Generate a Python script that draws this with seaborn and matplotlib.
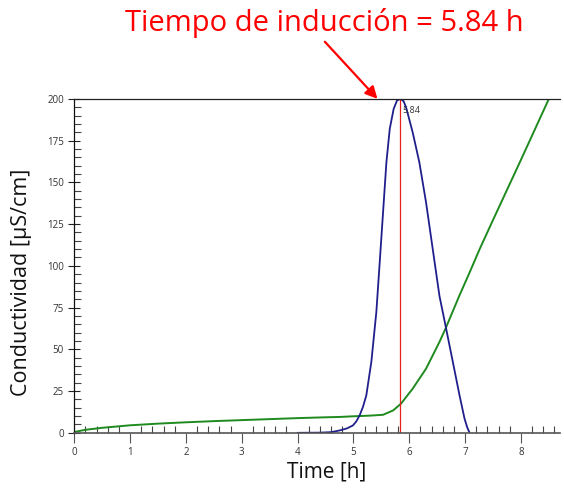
import numpy as np
import pandas as pd
import matplotlib
matplotlib.use("Agg")
import matplotlib.pyplot as plt
import seaborn as sns
from matplotlib.ticker import MultipleLocator

# Data
blue_t = [4.0, 4.4, 4.6, 4.75, 4.88, 4.99, 5.05, 5.11, 5.17, 5.23, 5.32, 5.41, 5.47, 5.53, 5.59,
          5.65, 5.72, 5.78, 5.84, 5.90, 5.95, 6.06, 6.18, 6.30, 6.42, 6.54, 6.65,
          6.78, 6.90, 6.99, 7.04, 7.08]
blue_v = [0.0, 0.1, 0.4, 1.4, 2.6, 4.4, 6.8, 10.4, 15.5, 22.4, 42.4, 72.4, 102.0, 132.0, 162.0,
          182.0, 194.0, 199.0, 200.0, 198.5, 194.0, 180.0, 162.0, 138.0, 110.0, 82.0, 64.0,
          42.4, 22.4, 8.4, 3.0, 0.0]

green_t = [0.0, 0.2, 0.5, 1.0, 1.5, 2.0, 2.5, 3.0, 3.5, 4.0, 4.5, 4.75, 5.0, 5.3,
           5.53, 5.71, 5.85, 6.06, 6.30, 6.54, 6.65, 6.90, 7.08, 7.26, 7.5, 8.0, 8.5, 8.6]
green_v = [0.5, 1.8, 3.0, 4.5, 5.5, 6.3, 7.0, 7.6, 8.2, 8.8, 9.3, 9.5, 9.9, 10.3,
           10.8, 13.4, 17.4, 26.4, 38.4, 54.4, 62.5, 82.4, 96.0, 110.0, 127.5, 163.5, 200.0, 207.0]

induction_time = 5.84
title_text = "Tiempo de inducción = 5.84 h"
xlabel = "Time [h]"
ylabel = "Conductividad [µS/cm]"
x_ticks = [0, 1, 2, 3, 4, 5, 6, 7, 8]
y_ticks = [0, 25, 50, 75, 100, 125, 150, 175, 200]

sns.set_style("ticks")
plt.rcParams['font.family'] = ['Open Sans', 'DejaVu Sans']

fig = plt.figure(figsize=(5.64, 4.91), dpi=100)
ax = fig.add_axes([0.1317, 0.1185, 0.8613, 0.6802])

df_b = pd.DataFrame({"t": blue_t, "v": blue_v})
df_g = pd.DataFrame({"t": green_t, "v": green_v})
sns.lineplot(data=df_g, x="t", y="v", ax=ax, color="#1f8a1f", linewidth=1.4)
sns.lineplot(data=df_b, x="t", y="v", ax=ax, color="#1f1f8c", linewidth=1.3)

ax.vlines(induction_time, 0, 200, color="#e8201c", linewidth=0.9)
ax.text(induction_time + 0.04, 196, "5.84", fontsize=6.5, color="#333333", va="top", ha="left")

ax.set_xlim(0, 8.7)
ax.set_ylim(0, 200)
ax.set_xticks(x_ticks)
ax.set_yticks(y_ticks)
ax.xaxis.set_minor_locator(MultipleLocator(0.2))
ax.yaxis.set_minor_locator(MultipleLocator(5))
ax.tick_params(axis="x", which="major", direction="out", length=7, width=0.8,
               color="#555555", labelsize=7, labelcolor="#333333", pad=3)
ax.tick_params(axis="x", which="minor", direction="in", length=5, width=0.8, color="#444444")
ax.tick_params(axis="y", which="major", direction="inout", length=9, width=0.8,
               color="#222222", labelsize=7, labelcolor="#333333", pad=3)
ax.tick_params(axis="y", which="minor", direction="in", length=5, width=0.8, color="#444444")

ax.set_xlabel(xlabel, fontsize=15, color="#111111")
ax.set_ylabel(ylabel, fontsize=15.5, color="#111111")
ax.xaxis.set_label_coords(0.52, -0.085)
ax.yaxis.set_label_coords(-0.087, 0.45)

ax.spines["right"].set_visible(False)
ax.spines["top"].set_visible(True)
ax.spines["top"].set_color("#222222")
ax.spines["top"].set_linewidth(0.9)
ax.spines["left"].set_color("#111111")
ax.spines["left"].set_linewidth(0.9)
ax.spines["bottom"].set_color("#555555")
ax.spines["bottom"].set_linewidth(1.2)

fig.text(0.575, 0.953, title_text, color="#ff0000", fontsize=21, ha="center", va="center")
ax.annotate("", xy=(5.43, 200), xycoords="data",
            xytext=(0.576, 0.915), textcoords="figure fraction",
            arrowprops=dict(arrowstyle="-|>", color="#ff0000", lw=1.6,
                            mutation_scale=18, shrinkA=0, shrinkB=0),
            annotation_clip=False)

fig.savefig("out.png", dpi=100)
